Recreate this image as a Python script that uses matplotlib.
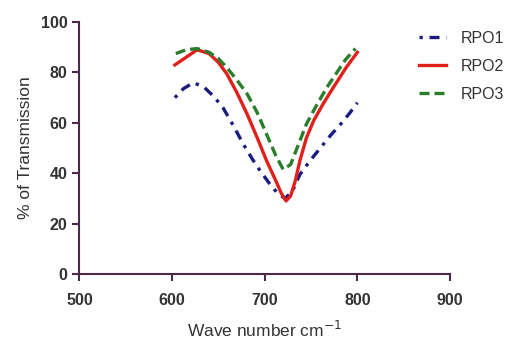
import matplotlib.pyplot as plt

plt.rcParams['font.family'] = ['Liberation Sans', 'DejaVu Sans']

# wave numbers (cm-1) and % transmission
wn1 = [603, 612, 623, 635, 645, 655, 666, 677, 686, 695, 705, 714, 722, 730, 738, 749, 760, 771, 782, 792, 800]
rpo1 = [70, 73.5, 76, 74, 70.5, 66, 59, 51.5, 46, 41, 36, 32, 30, 33, 39.5, 45, 50, 55, 59.5, 64, 68]

wn2 = [603, 615, 627, 640, 650, 659, 670, 681, 692, 702, 712, 718, 723, 728, 733, 738, 745, 753, 763, 774, 788, 800]
rpo2 = [83, 86, 89, 87.5, 84, 79.5, 72, 63.5, 54, 45, 37, 32, 29, 31, 37, 45, 54, 61, 67.5, 74, 82, 88]

wn3 = [604, 615, 627, 640, 650, 659, 670, 681, 692, 702, 712, 720, 728, 736, 745, 756, 767, 777, 787, 798]
rpo3 = [87.5, 89, 89.5, 88, 85.5, 82, 77, 71.5, 64, 55.5, 47, 41.5, 43.5, 51, 59.5, 67, 74, 79.5, 85, 89.5]

fig = plt.figure(figsize=(5.16, 3.40), dpi=100)
ax = fig.add_axes([0.154, 0.194, 0.718, 0.741])

ax.plot(wn1, rpo1, color='#1c1c80', lw=2.4, linestyle=(0, (1, 2, 3, 2)), label='RPO1')
ax.plot(wn2, rpo2, color='#e0201b', lw=2.4, label='RPO2')
ax.plot(wn3, rpo3, color='#2a7d2a', lw=2.4, linestyle=(0, (3, 1.5)), label='RPO3')

ax.set_xlim(500, 900)
ax.set_ylim(0, 100)
ax.set_xticks([500, 600, 700, 800, 900])
ax.set_yticks([0, 20, 40, 60, 80, 100])
for s in ['top', 'right']:
    ax.spines[s].set_visible(False)
for s in ['left', 'bottom']:
    ax.spines[s].set_color('#4a2a48')
    ax.spines[s].set_linewidth(1.5)
ax.tick_params(colors='#4a2a48', width=1.5, length=5, labelsize=11.5)
ax.tick_params(axis='x', pad=9)
for lab in ax.get_xticklabels() + ax.get_yticklabels():
    lab.set_fontweight('bold')
    lab.set_color('#333333')

ax.set_xlabel('Wave number cm$^{-1}$', fontsize=12.5, color='#333333', labelpad=8)
ax.set_ylabel('% of Transmission', fontsize=12.5, color='#333333', labelpad=6)

ax.legend(loc='upper left', bbox_to_anchor=(0.9, 0.99), frameon=False,
          fontsize=11.5, handlelength=1.7, labelspacing=0.8, handletextpad=0.9,
          borderaxespad=0, labelcolor='#333333')

plt.savefig('out.png', dpi=100)
